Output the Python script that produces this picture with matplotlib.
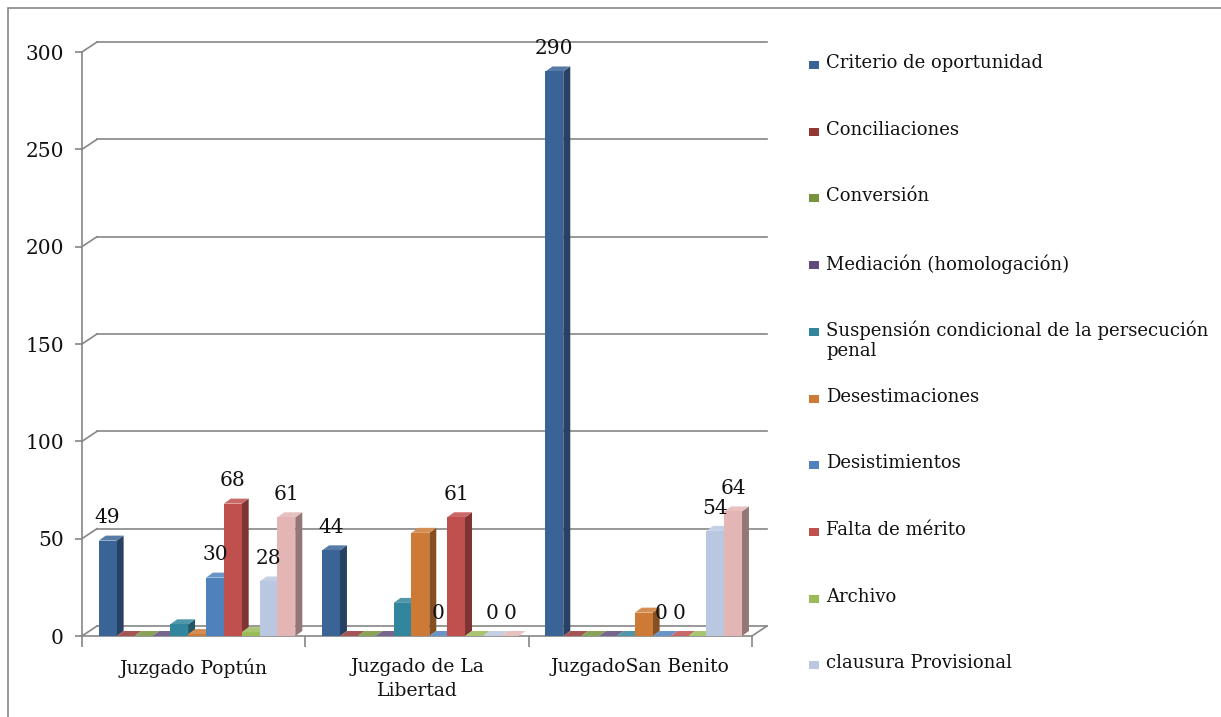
import matplotlib.pyplot as plt
from matplotlib.patches import Polygon, Rectangle
import matplotlib.colors as mcolors
import numpy as np

juzgados = ["Juzgado Poptún", "Juzgado de La\nLibertad", "JuzgadoSan Benito"]

series = ["Criterio de oportunidad", "Conciliaciones", "Conversión",
          "Mediación (homologación)",
          "Suspensión condicional de la persecución\npenal",
          "Desestimaciones", "Desistimientos", "Falta de mérito",
          "Archivo", "clausura Provisional", ""]

criterio = [49, 44, 290]
conciliaciones = [0, 0, 0]
conversion = [0, 0, 0]
mediacion = [0, 0, 0]
suspension = [6, 17, 0]
desestimaciones = [1, 53, 12]
desistimientos = [30, 0, 0]
falta_merito = [68, 61, 0]
archivo = [2, 0, 0]
clausura = [28, 0, 54]
otros = [61, 0, 64]

valores = [criterio, conciliaciones, conversion, mediacion, suspension,
           desestimaciones, desistimientos, falta_merito, archivo, clausura, otros]
# series with a value label in the original
con_etiqueta = [0, 6, 7, 9, 10]

colores = ["#3B6496", "#953735", "#77933C", "#604A7B", "#31859C", "#CC7A35",
           "#4F81BD", "#C0504D", "#9BBB59", "#B9C7E0", "#E3B6B5"]

gris = "#868686"
plt.rcParams['font.family'] = ['DejaVu Serif']

W, H = 1221, 717
fig = plt.figure(figsize=(W / 100, H / 100), dpi=100)
ax_l, ax_b, ax_w, ax_h = 82, 81, 670, 584
ax = fig.add_axes([ax_l / W, ax_b / H, ax_w / W, ax_h / H])
ax.set_xlim(-0.5, 2.5)
ax.set_ylim(0, 300)
ax.patch.set_alpha(0)

# pixel -> data conversions for fake 3D offsets
px_x = 3 / ax_w
px_y = 300 / ax_h
wall_dx, wall_dy = 15 * px_x, 10 * px_y
bar_dx, bar_dy = 7 * px_x, 5 * px_y

# back wall gridlines + connectors
for v in range(50, 301, 50):
    ax.plot([-0.5 + wall_dx, 2.5 + wall_dx], [v + wall_dy, v + wall_dy],
            color=gris, lw=1.2, clip_on=False, zorder=1)
    ax.plot([-0.5, -0.5 + wall_dx], [v, v + wall_dy], color=gris, lw=1.2,
            clip_on=False, zorder=1)
# floor
ax.plot([-0.5 + wall_dx, 2.5 + wall_dx], [wall_dy, wall_dy], color=gris, lw=1.2,
        clip_on=False, zorder=1)
ax.plot([-0.5, -0.5 + wall_dx], [0, wall_dy], color=gris, lw=1.2, clip_on=False, zorder=1)
ax.plot([2.5, 2.5 + wall_dx], [0, wall_dy], color=gris, lw=1.2, clip_on=False, zorder=1)

ancho = 0.08
inicio = -0.425
x = np.arange(len(juzgados))

z = 3
for i, vals in enumerate(valores):
    base = mcolors.to_rgb(colores[i])
    oscuro = tuple(c * 0.65 for c in base)
    claro = tuple(min(1, c * 0.85 + 0.15) for c in base)
    for j, v in enumerate(vals):
        x0 = x[j] + inicio + i * ancho
        x1 = x0 + ancho
        ax.add_patch(Polygon([(x1, 0), (x1, v), (x1 + bar_dx, v + bar_dy), (x1 + bar_dx, bar_dy)],
                             closed=True, fc=oscuro, ec='none', zorder=z, clip_on=False))
        ax.add_patch(Polygon([(x0, v), (x1, v), (x1 + bar_dx, v + bar_dy), (x0 + bar_dx, v + bar_dy)],
                             closed=True, fc=claro, ec='none', zorder=z, clip_on=False))
        if v > 0:
            ax.bar(x0, v, width=ancho, align='edge', color=base, zorder=z + 0.5)
        if i in con_etiqueta:
            ax.annotate(str(v), (x0 + ancho / 2, v + bar_dy), xytext=(0, 6),
                        textcoords='offset points', ha='center', va='bottom',
                        fontsize=14.5, color='#111111', zorder=20, annotation_clip=False)
    z += 1

# axes styling
for s in ['top', 'right']:
    ax.spines[s].set_visible(False)
ax.spines['left'].set_color(gris)
ax.spines['bottom'].set_color(gris)
ax.spines['left'].set_linewidth(1.2)
ax.spines['bottom'].set_linewidth(1.2)
ax.set_yticks(range(0, 301, 50))
ax.tick_params(axis='y', colors=gris, length=5, width=1.2, labelsize=14.5,
               labelcolor='#111111', pad=8)
ax.set_xticks([-0.5, 0.5, 1.5, 2.5])
ax.set_xticklabels([])
ax.tick_params(axis='x', colors=gris, length=8, width=1.2)
ax.set_xticks(x, juzgados, minor=True)
ax.tick_params(axis='x', which='minor', length=0, pad=16, labelsize=13.5,
               labelcolor='#111111')
for t in ax.get_xticklabels(minor=True):
    t.set_verticalalignment('top')
    t.set_linespacing(1.4)

# legend drawn by hand, following the original spacing
for i in range(10):
    yc = 65 + 66.7 * i
    fig.add_artist(Rectangle((809 / W, 1 - (yc + 4) / H), 10 / W, 8 / H,
                             transform=fig.transFigure, fc=colores[i], ec='none'))
    fig.text(826 / W, 1 - (yc - 11) / H, series[i], ha='left', va='top',
             fontsize=13, color='#111111', linespacing=1.1)

# outer chart border
fig.add_artist(Rectangle((8 / W, -0.1), 2, 1 - 8 / H + 0.1, transform=fig.transFigure,
                         fill=False, ec=gris, lw=1.2))

fig.savefig("out.png", dpi=100)
